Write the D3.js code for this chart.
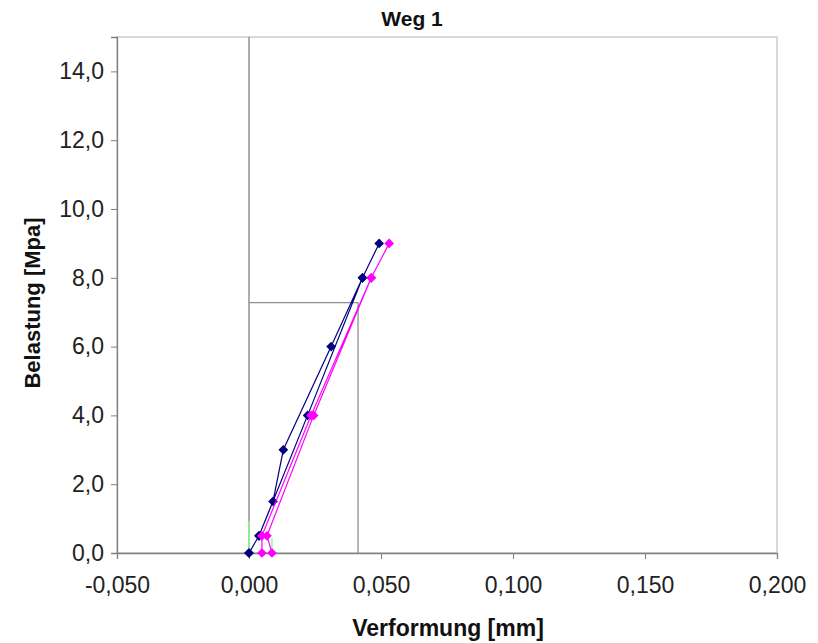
<!DOCTYPE html>
<html>
<head>
<meta charset="utf-8">
<script src="https://cdn.jsdelivr.net/npm/d3@7"></script>
<style>
  body { margin: 0; background: #fff; }
  svg { display: block; font-family: "Liberation Sans", Arial, sans-serif; }
</style>
</head>
<body>
<svg id="chart" width="818" height="643"></svg>
<script>
// ---- data ----
const title = "Weg 1";
const xTitle = "Verformung [mm]";
const yTitle = "Belastung [Mpa]";
const xTicks = [-0.05, 0, 0.05, 0.1, 0.15, 0.2];
const yTicks = [0, 2, 4, 6, 8, 10, 12, 14];

// navy series: loading then unloading path
const navyX = [0, 0.0038, 0.0091, 0.0130, 0.0311, 0.0430, 0.0493, 0.0430, 0.0222, 0.0038, 0];
const navyY = [0, 0.5, 1.5, 3.0, 6.0, 8.0, 9.0, 8.0, 4.0, 0.5, 0];

// magenta series
const magX = [0.0049, 0.0049, 0.0235, 0.0463, 0.0531, 0.0463, 0.0245, 0.0068, 0.0087];
const magY = [0, 0.5, 4.0, 8.0, 9.0, 8.0, 4.0, 0.5, 0];

// gray reference construction lines
const refX = [0, 0.0413, 0.0413];
const refY = [7.28, 7.28, 0];
const zeroLineX = [0, 0];
const zeroLineY = [0, 15];

// small green segments
const green1X = [0, 0];
const green1Y = [0, 0.93];
const green2X = [0.0087, 0.0087];
const green2Y = [0, 0.44];

// ---- drawing ----
const svg = d3.select("#chart");
const m = { left: 117, right: 777, top: 37, bottom: 553 };
const x = d3.scaleLinear().domain([-0.05, 0.2]).range([m.left, m.right]);
const y = d3.scaleLinear().domain([0, 15]).range([m.bottom, m.top]);
const fmt = (d, n) => d3.format("." + n + "f")(d).replace(".", ",").replace("−", "-");

// plot frame (top/right light)
svg.append("rect")
  .attr("x", m.left).attr("y", m.top)
  .attr("width", m.right - m.left).attr("height", m.bottom - m.top)
  .attr("fill", "none").attr("stroke", "#d9d9d9").attr("stroke-width", 2);

const zip = (xs, ys) => xs.map((v, i) => [v, ys[i]]);
const line = d3.line().x(d => x(d[0])).y(d => y(d[1]));

// zero line
svg.append("path").datum(zip(zeroLineX, zeroLineY)).attr("d", line)
  .attr("fill", "none").attr("stroke", "#808080").attr("stroke-width", 1.3);

// reference lines
svg.append("path").datum(zip(refX, refY)).attr("d", line)
  .attr("fill", "none").attr("stroke", "#909090").attr("stroke-width", 1.3);

// green segments
[[green1X, green1Y], [green2X, green2Y]].forEach(([gx, gy]) => {
  svg.append("path").datum(zip(gx, gy)).attr("d", line)
    .attr("fill", "none").attr("stroke", "#88ff88").attr("stroke-width", 1.5);
});

// axes
const xAxis = d3.axisBottom(x).tickValues(xTicks).tickSize(6).tickFormat(d => fmt(d, 3));
const gx = svg.append("g").attr("transform", `translate(0,${m.bottom})`).call(xAxis);
gx.select(".domain").attr("stroke", "#808080").attr("stroke-width", 1.3);
gx.selectAll(".tick line").attr("stroke", "#808080");
gx.selectAll(".tick text").attr("font-size", 23).attr("font-family", "Liberation Sans, Arial, sans-serif")
  .attr("fill", "#222").attr("y", 24).attr("dy", "0.71em");

const yAxis = d3.axisLeft(y).tickValues(yTicks).tickSize(6).tickFormat(d => fmt(d, 1));
const gy = svg.append("g").attr("transform", `translate(${m.left},0)`).call(yAxis);
gy.select(".domain").attr("stroke", "#808080").attr("stroke-width", 1.3);
gy.selectAll(".tick line").attr("stroke", "#808080");
gy.selectAll(".tick text").attr("font-size", 23).attr("font-family", "Liberation Sans, Arial, sans-serif")
  .attr("fill", "#222").attr("x", -13);

// series
function drawSeries(xs, ys, color, w) {
  const pts = zip(xs, ys);
  svg.append("path").datum(pts).attr("d", line)
    .attr("fill", "none").attr("stroke", color).attr("stroke-width", w);
  const sym = d3.symbol().type(d3.symbolDiamond2).size(60);
  svg.append("g").selectAll("path").data(pts).join("path")
    .attr("d", sym)
    .attr("transform", d => `translate(${x(d[0])},${y(d[1])})`)
    .attr("fill", color);
}
drawSeries(navyX, navyY, "#000080", 1.2);
drawSeries(magX, magY, "#ff00ff", 1.2);

// titles
svg.append("text").attr("x", 412).attr("y", 26).attr("text-anchor", "middle")
  .attr("font-size", 21).attr("font-weight", "bold").attr("fill", "#111").text(title);
svg.append("text").attr("x", 448).attr("y", 636).attr("text-anchor", "middle")
  .attr("font-size", 23).attr("font-weight", "bold").attr("fill", "#111").text(xTitle);
svg.append("text").attr("transform", "translate(40,303) rotate(-90)").attr("text-anchor", "middle")
  .attr("font-size", 22).attr("font-weight", "bold").attr("fill", "#111").text(yTitle);
</script>
</body>
</html>
